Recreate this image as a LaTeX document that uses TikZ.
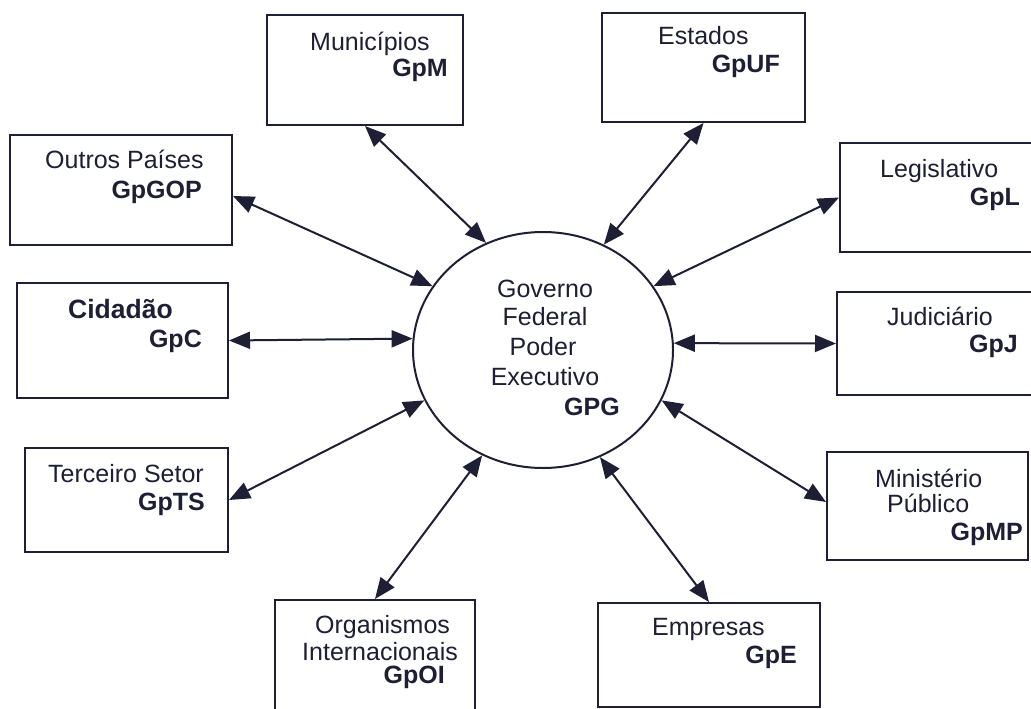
\documentclass[tikz,border=0pt]{standalone}
\usepackage{fontspec}
\setmainfont{Liberation Sans}
\usetikzlibrary{arrows.meta,shapes.geometric}
\definecolor{ink}{RGB}{30,30,52}
\begin{document}
\begin{tikzpicture}[x=1pt,y=-1pt,
  box/.style={draw=ink, line width=2pt, rectangle, inner sep=0pt, fill=white},
  lbl/.style={text=ink, font=\fontsize{25}{30}\selectfont, inner sep=0pt},
  bld/.style={text=ink, font=\fontsize{25}{30}\selectfont\bfseries, inner sep=0pt},
  link/.style={draw=ink, line width=2pt,
    {Triangle[length=21pt,width=17pt]}-{Triangle[length=21pt,width=17pt]}},
]
\useasboundingbox (0,0) rectangle (1031,709);
\clip (0,0) rectangle (1031,709);
\fill[white] (0,0) rectangle (1031,709);

% surrounding boxes
\node[box, minimum width=196pt, minimum height=110pt] (mun) at (365,70) {};
\node[box, minimum width=203pt, minimum height=109pt] (est) at (703.5,67.5) {};
\node[box, minimum width=222pt, minimum height=110pt] (out) at (121,190) {};
\node[box, minimum width=211pt, minimum height=115pt] (cid) at (122.5,340.5) {};
\node[box, minimum width=203pt, minimum height=104pt] (ter) at (126.5,500) {};
\node[box, minimum width=200pt, minimum height=114pt] (org) at (375,657) {};
\node[box, minimum width=222pt, minimum height=104pt] (emp) at (709,655) {};
\node[box, minimum width=201pt, minimum height=108pt] (mp) at (927.5,506) {};
\node[box, minimum width=199pt, minimum height=103pt] (jud) at (936.5,343.5) {};
\node[box, minimum width=196pt, minimum height=109pt] (leg) at (938,197.5) {};

% central actor
\node[draw=ink, line width=2pt, ellipse, fill=white, inner sep=0pt,
      minimum width=260pt, minimum height=236pt] (gpg) at (543,350) {};

% labels
\node[lbl, anchor=base west] (mun1) at (310,51) {Municípios};
\node[bld, anchor=base east] (mun2) at (448,77) {GpM};
\node[lbl, anchor=base west] (est1) at (658,45) {Estados};
\node[bld, anchor=base east] (est2) at (780,73) {GpUF};
\node[lbl, anchor=base west] (out1) at (45,168) {Outros Países};
\node[bld, anchor=base east] (out2) at (202,198) {GpGOP};
\node[bld, anchor=base west, font=\fontsize{26.5}{30}\selectfont\bfseries] (cid1) at (68,318) {Cidadão};
\node[bld, anchor=base east] (cid2) at (202,347) {GpC};
\node[lbl, anchor=base west] (ter1) at (48,482) {Terceiro Setor};
\node[bld, anchor=base east] (ter2) at (205,510) {GpTS};
\node[lbl, anchor=base west] (org1) at (315,633) {Organismos};
\node[lbl, anchor=base west] (org2) at (302,660) {Internacionais};
\node[bld, anchor=base east] (org3) at (445,683) {GpOI};
\node[lbl, anchor=base west] (emp1) at (652,635) {Empresas};
\node[bld, anchor=base east] (emp2) at (797,663) {GpE};
\node[lbl, anchor=base west] (mp1) at (875,487) {Ministério};
\node[lbl, anchor=base west] (mp2) at (887,512) {Público};
\node[bld, anchor=base east] (mp3) at (1023,540) {GpMP};
\node[lbl, anchor=base west] (jud1) at (887,325) {Judiciário};
\node[bld, anchor=base east] (jud2) at (1018,352) {GpJ};
\node[lbl, anchor=base west] (leg1) at (880,177) {Legislativo};
\node[bld, anchor=base east] (leg2) at (1020,205) {GpL};

\node[lbl, anchor=base] (g1) at (545,297) {Governo};
\node[lbl, anchor=base] (g2) at (545,325) {Federal};
\node[lbl, anchor=base] (g3) at (543,355) {Poder};
\node[lbl, anchor=base] (g4) at (545,385) {Executivo};
\node[bld, anchor=base east] (g5) at (620,415) {GPG};

% two-way relations
\draw[link] (mun.south) -- (gpg.118.5);
\draw[link] (est.south) -- (gpg.60);
\draw[link] ([yshift=-6pt]out.east) -- (gpg.150);
\draw[link] (cid.east) -- (gpg.175.5);
\draw[link] (ter.east) -- (gpg.203);
\draw[link] (org.north) -- (gpg.240);
\draw[link] (emp.north) -- (gpg.298);
\draw[link] ([yshift=4pt]mp.west) -- (gpg.337);
\draw[link] (jud.west) -- (gpg.3);
\draw[link] (leg.west) -- (gpg.30);
\end{tikzpicture}
\end{document}
